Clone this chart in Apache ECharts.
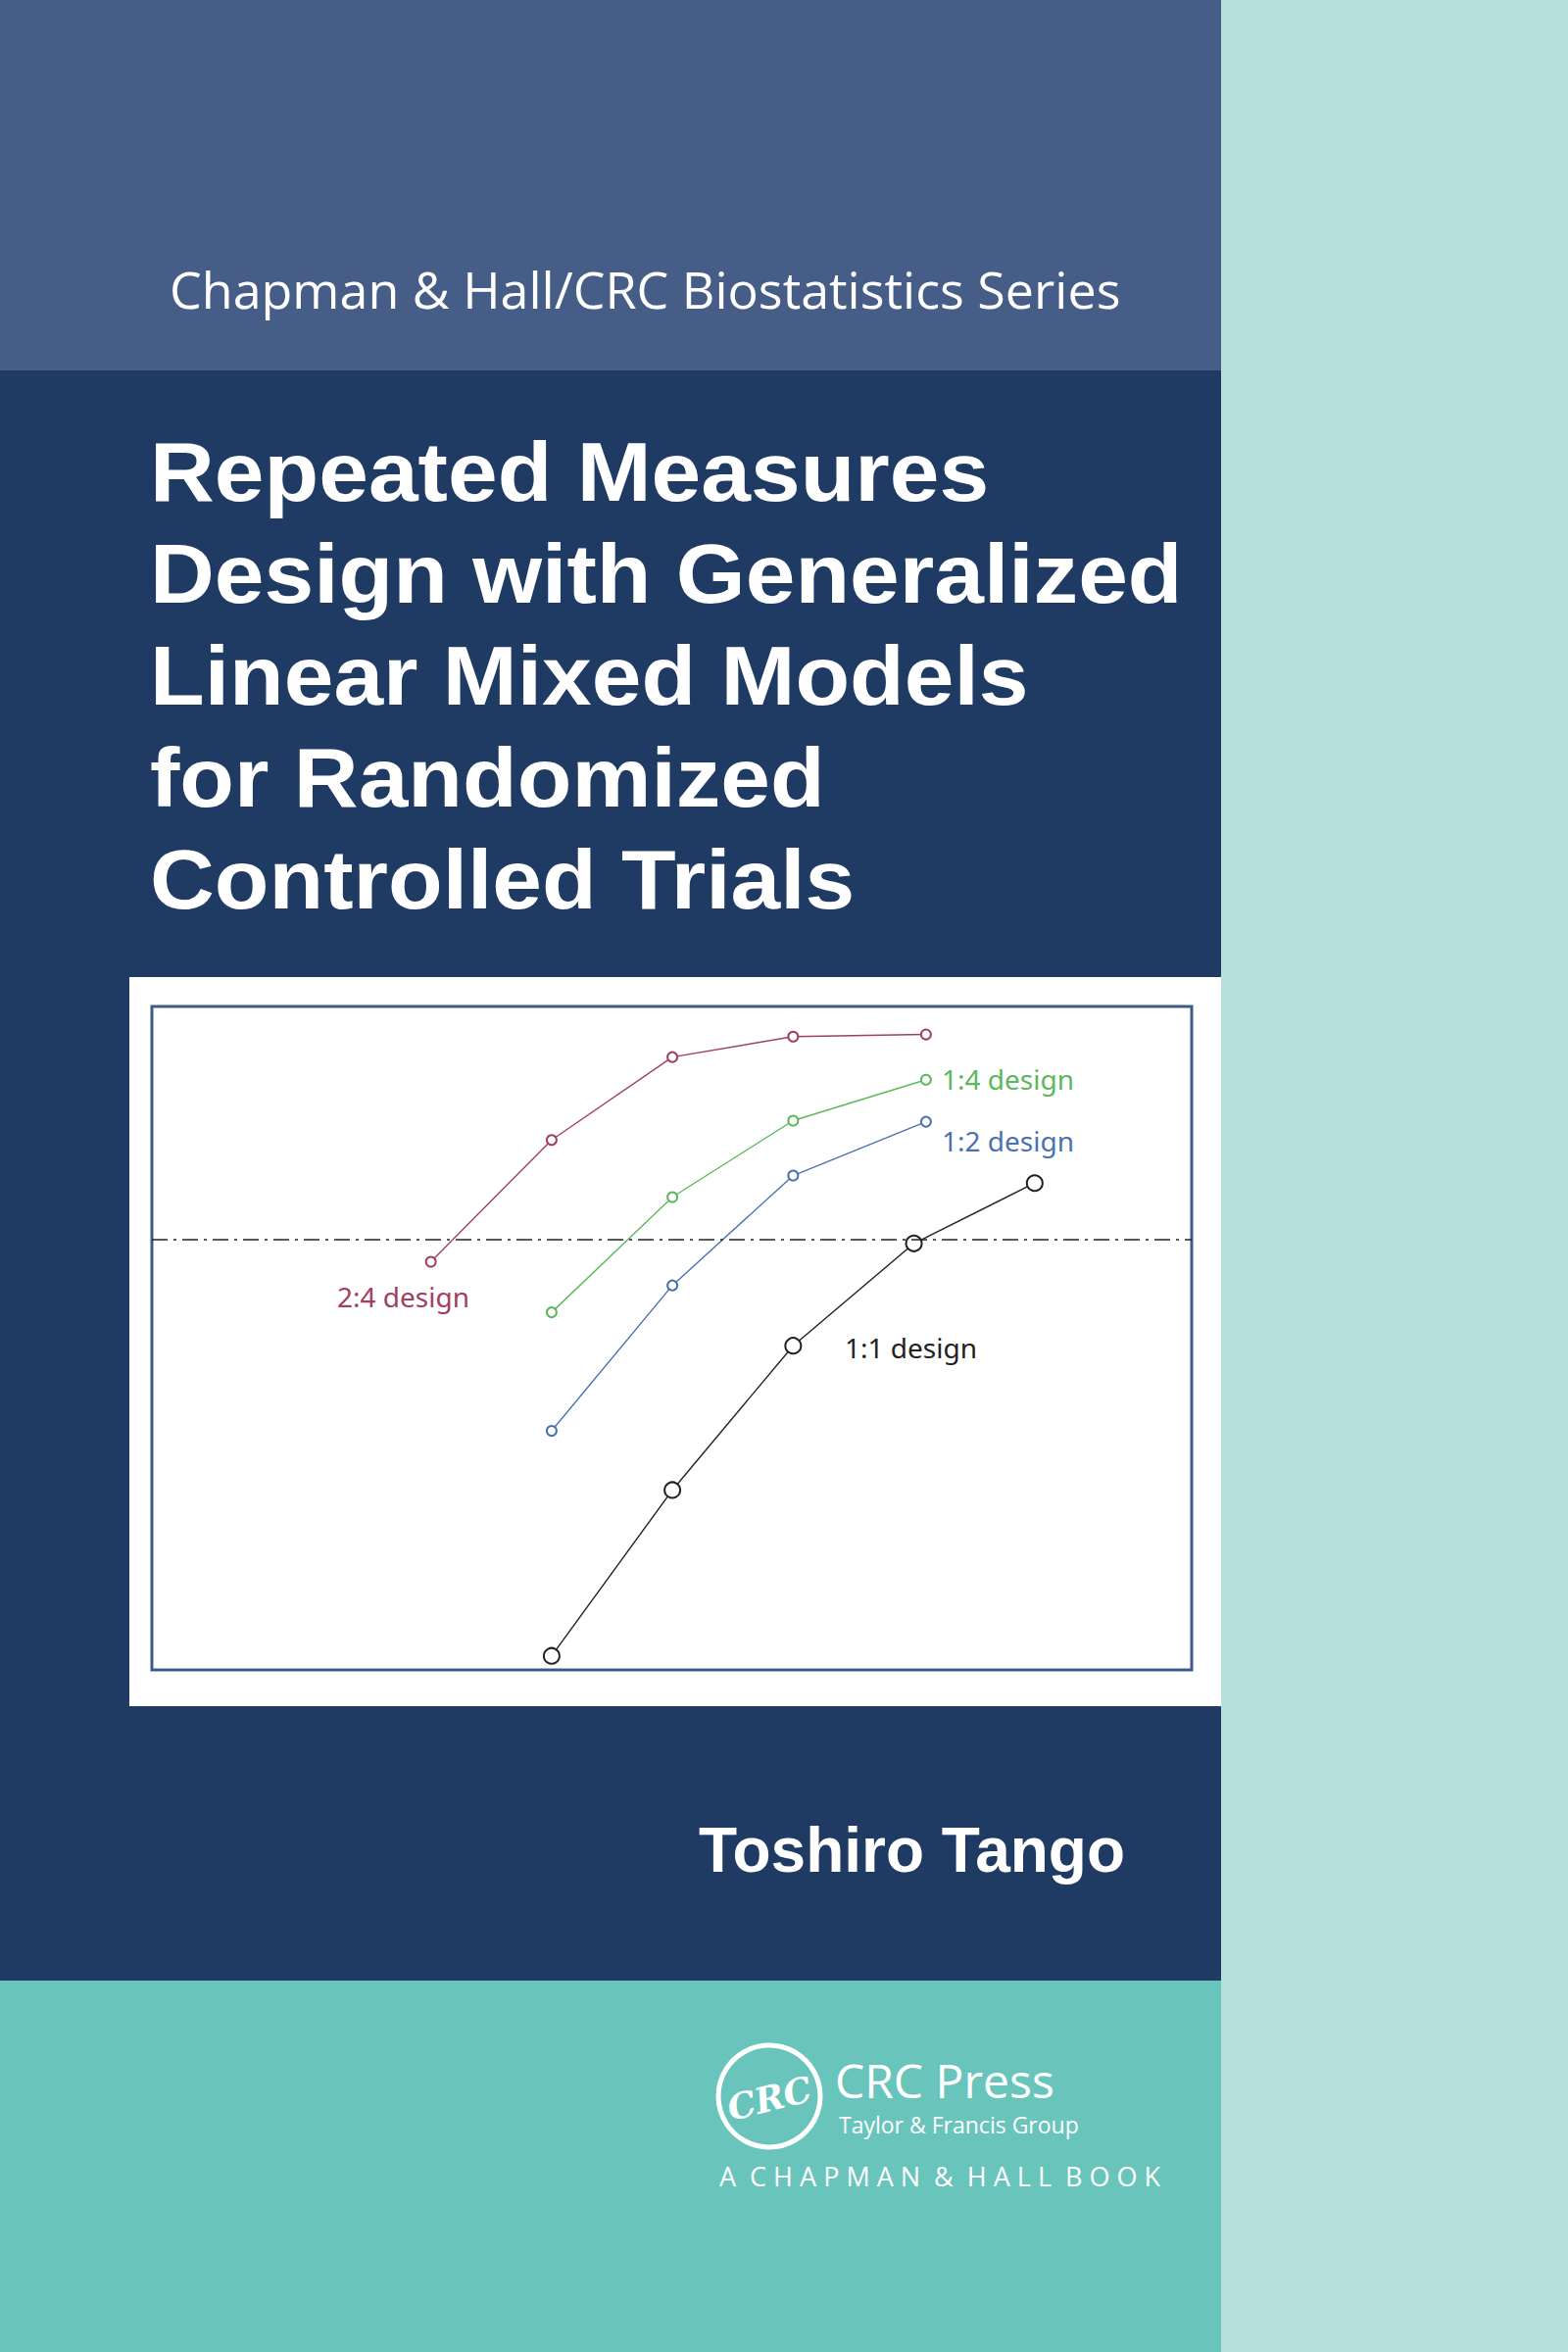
<!DOCTYPE html>
<html>
<head>
<meta charset="utf-8">
<script src="https://cdn.jsdelivr.net/npm/echarts@6/dist/echarts.min.js"></script>
<style>
html, body { margin: 0; padding: 0; }
#cover { width: 1600px; height: 2400px; }
</style>
</head>
<body>
<div id="cover"></div>
<script>
// sample size index (x) and power-like value (y)
var design24X = [3, 4, 5, 6, 7.1];
var design24Y = [0.779, 0.892, 0.969, 0.988, 0.990];
var design14X = [4, 5, 6, 7.1];
var design14Y = [0.732, 0.839, 0.910, 0.948];
var design12X = [4, 5, 6, 7.1];
var design12Y = [0.622, 0.757, 0.859, 0.909];
var design11X = [4, 5, 6, 7, 8];
var design11Y = [0.413, 0.567, 0.701, 0.796, 0.852];
var targetLine = 0.8;

var titleLines = ['Repeated Measures', 'Design with Generalized', 'Linear Mixed Models',
	'for Randomized', 'Controlled Trials'];

function pairs(xs, ys) {
	var out = [];
	for (var i = 0; i < xs.length; i++) out.push([xs[i], ys[i]]);
	return out;
}

function lineSerie(name, xs, ys, color, size) {
	return {
		name: name,
		type: 'line',
		data: pairs(xs, ys),
		symbol: 'emptyCircle',
		symbolSize: size,
		lineStyle: { color: color, width: 1.4 },
		itemStyle: { color: color, borderWidth: 1.4 },
		silent: true,
		animation: false
	};
}

var graphics = [
	{ type: 'rect', shape: { x: 0, y: 0, width: 1600, height: 2400 }, style: { fill: '#b5e0dc' }, z: -10 },
	{ type: 'rect', shape: { x: 0, y: 0, width: 1246, height: 378 }, style: { fill: '#465d88' }, z: -9 },
	{ type: 'rect', shape: { x: 0, y: 378, width: 1246, height: 1644 }, style: { fill: '#1f3a63' }, z: -9 },
	{ type: 'rect', shape: { x: 0, y: 2021, width: 1246, height: 379 }, style: { fill: '#69c5bb' }, z: -9 },
	{ type: 'rect', shape: { x: 132, y: 997, width: 1114, height: 744 }, style: { fill: '#ffffff' }, z: -8 },
	{ type: 'text', x: 173, y: 294, style: { text: 'Chapman & Hall/CRC Biostatistics Series', fill: '#ffffff',
		font: '52px "Open Sans"', verticalAlign: 'middle' } },
	{ type: 'text', x: 1148, y: 1888, style: { text: 'Toshiro Tango', fill: '#ffffff',
		font: 'bold 64px "Liberation Sans"', align: 'right', verticalAlign: 'middle' } },
	{ type: 'circle', shape: { cx: 785, cy: 2139, r: 52 }, style: { fill: 'none', stroke: '#ffffff', lineWidth: 5 } },
	{ type: 'text', x: 785, y: 2141, rotation: 0.25, style: { text: 'CRC', fill: '#ffffff',
		font: 'italic bold 36px "DejaVu Serif"', align: 'center', verticalAlign: 'middle' } },
	{ type: 'text', x: 852, y: 2122, style: { text: 'CRC Press', fill: '#ffffff',
		font: '48px "Open Sans"', verticalAlign: 'middle' } },
	{ type: 'text', x: 856, y: 2168, style: { text: 'Taylor & Francis Group', fill: '#ffffff',
		font: '23px "Open Sans"', verticalAlign: 'middle' } },
	{ type: 'text', x: 734, y: 2220, style: { text: 'A  C H A P M A N  &  H A L L  B O O K', fill: '#ffffff',
		font: '27px "Open Sans"', verticalAlign: 'middle' } },
	{ type: 'text', x: 961, y: 1101, style: { text: '1:4 design', fill: '#5cb85c', font: '28px "Noto Sans"', verticalAlign: 'middle' } },
	{ type: 'text', x: 961, y: 1164, style: { text: '1:2 design', fill: '#4a72b0', font: '28px "Noto Sans"', verticalAlign: 'middle' } },
	{ type: 'text', x: 344, y: 1323, style: { text: '2:4 design', fill: '#a0405f', font: '28px "Noto Sans"', verticalAlign: 'middle' } },
	{ type: 'text', x: 862, y: 1375, style: { text: '1:1 design', fill: '#222222', font: '28px "Noto Sans"', verticalAlign: 'middle' } }
];
for (var i = 0; i < titleLines.length; i++) {
	graphics.push({ type: 'text', x: 153, y: 481 + i * 104, scaleX: 1.06, style: { text: titleLines[i], fill: '#ffffff',
		font: 'bold 86px "Liberation Sans"', verticalAlign: 'middle' } });
}

var myChart = echarts.init(document.getElementById('cover'), null, { renderer: 'svg' });
var option = {
	animation: false,
	graphic: graphics,
	grid: { left: 155, top: 1027, width: 1061, height: 677, show: true,
		borderColor: '#3d5a8a', borderWidth: 3, backgroundColor: '#ffffff' },
	xAxis: { type: 'value', min: 0.69, max: 9.3, show: false },
	yAxis: { type: 'value', min: 0.4, max: 1.016, show: false },
	series: [
		lineSerie('2:4', design24X, design24Y, '#a0405f', 10),
		lineSerie('1:4', design14X, design14Y, '#5cb85c', 10),
		lineSerie('1:2', design12X, design12Y, '#4a72b0', 10),
		(function () {
			var s = lineSerie('1:1', design11X, design11Y, '#222222', 16);
			s.markLine = {
				silent: true, symbol: 'none', label: { show: false },
				lineStyle: { color: '#222222', width: 1.5, type: [16, 6, 3, 6] },
				data: [{ yAxis: targetLine }]
			};
			return s;
		})()
	]
};
myChart.setOption(option);
</script>
</body>
</html>
